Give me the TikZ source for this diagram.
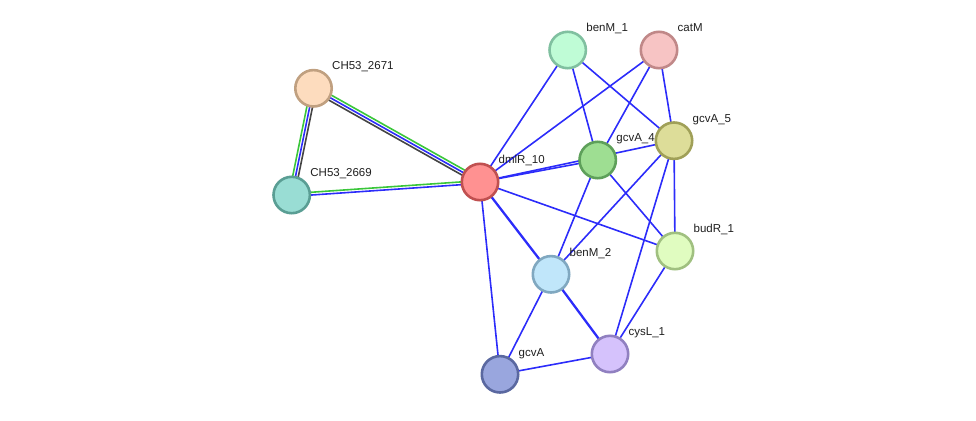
\documentclass[tikz,border=0pt]{standalone}
\usepackage{fontspec}
\setmainfont{Liberation Sans}
\usetikzlibrary{backgrounds}
\definecolor{eblue}{HTML}{2C2CFA}
\definecolor{egreen}{HTML}{3AC63A}
\definecolor{eblack}{HTML}{444444}
\definecolor{f1}{HTML}{FDDCBE}\definecolor{b1}{HTML}{C0A080}
\definecolor{f2}{HTML}{99DDD4}\definecolor{b2}{HTML}{5A9E94}
\definecolor{f3}{HTML}{FF9191}\definecolor{b3}{HTML}{C05050}
\definecolor{f4}{HTML}{BFFCD6}\definecolor{b4}{HTML}{80C0A0}
\definecolor{f5}{HTML}{F7C4C4}\definecolor{b5}{HTML}{C08888}
\definecolor{f6}{HTML}{9EDE92}\definecolor{b6}{HTML}{5EA05A}
\definecolor{f7}{HTML}{DDDD99}\definecolor{b7}{HTML}{A0A058}
\definecolor{f8}{HTML}{E0FCC0}\definecolor{b8}{HTML}{A0C080}
\definecolor{f9}{HTML}{C0E6FA}\definecolor{b9}{HTML}{80A8C0}
\definecolor{f10}{HTML}{D5C2FC}\definecolor{b10}{HTML}{9080C0}
\definecolor{f11}{HTML}{99A6DE}\definecolor{b11}{HTML}{5A68A0}
\begin{document}
\begin{tikzpicture}[x=1pt,y=-1pt,
  prot/.style={circle, draw, line width=2.6pt, minimum size=36.4pt, inner sep=0pt},
  lbl/.style={anchor=base west, inner sep=0pt, font=\fontsize{11.5}{13}\selectfont, text=black!88},
  eb/.style={draw=eblue, line width=1.6pt},
  ebt/.style={draw=eblue, line width=2.3pt},
  eg/.style={draw=egreen, line width=1.6pt},
  ek/.style={draw=eblack, line width=1.6pt}]
\useasboundingbox (0,0) rectangle (976,420);

\node[prot, fill=f1, draw=b1] (c71) at (313.5,88.3) {};
\node[prot, fill=f2, draw=b2] (c69) at (291.7,195) {};
\node[prot, fill=f3, draw=b3] (dml) at (480,182) {};
\node[prot, fill=f4, draw=b4] (bm1) at (567.7,50) {};
\node[prot, fill=f5, draw=b5] (cat) at (659,50) {};
\node[prot, fill=f6, draw=b6] (g4) at (597.7,160) {};
\node[prot, fill=f7, draw=b7] (g5) at (674,140.7) {};
\node[prot, fill=f8, draw=b8] (bud) at (675,251) {};
\node[prot, fill=f9, draw=b9] (bm2) at (551,274.3) {};
\node[prot, fill=f10, draw=b10] (cys) at (610,354) {};
\node[prot, fill=f11, draw=b11] (gcv) at (500,374.3) {};

\foreach \n/\t in {c71/CH53\_2671, c69/CH53\_2669, dml/dmlR\_10, bm1/benM\_1, cat/catM,
  g4/gcvA\_4, g5/gcvA\_5, bud/budR\_1, bm2/benM\_2, cys/cysL\_1, gcv/gcvA}
  \node[lbl] (l\n) at ([shift={(18.5,-18.3)}]\n.center) {\t};

\begin{scope}[on background layer]
  % triple and double edges
  \draw[eg, transform canvas={shift={(-2.75,-0.56)}}] (c71.center) -- (c69.center);
  \draw[eb] (c71.center) -- (c69.center);
  \draw[ek, transform canvas={shift={(2.75,0.56)}}] (c71.center) -- (c69.center);
  \draw[eg, transform canvas={shift={(1.37,-2.44)}}] (c71.center) -- (dml.center);
  \draw[eb] (c71.center) -- (dml.center);
  \draw[ek, transform canvas={shift={(-1.37,2.44)}}] (c71.center) -- (dml.center);
  \draw[eg, transform canvas={shift={(0.1,-1.4)}}] (c69.center) -- (dml.center);
  \draw[eb, transform canvas={shift={(-0.1,1.4)}}] (c69.center) -- (dml.center);
  % blue edges
  \draw[eb] (dml.center) -- (bm1.center);
  \draw[eb] (dml.center) -- (cat.center);
  \draw[eb] (dml.center) -- (g4.center);
  \draw[eb] (dml.center) -- (g5.center);
  \draw[ebt] (dml.center) -- (bm2.center);
  \draw[eb] (dml.center) -- (bud.center);
  \draw[eb] (dml.center) -- (gcv.center);
  \draw[eb] (bm1.center) -- (g4.center);
  \draw[eb] (bm1.center) -- (g5.center);
  \draw[eb] (cat.center) -- (g4.center);
  \draw[eb] (cat.center) -- (g5.center);
  \draw[eb] (g4.center) -- (bm2.center);
  \draw[eb] (g4.center) -- (bud.center);
  \draw[eb] (g5.center) -- (bm2.center);
  \draw[eb] (g5.center) -- (cys.center);
  \draw[eb] (g5.center) -- (bud.center);
  \draw[eb] (bud.center) -- (cys.center);
  \draw[ebt] (bm2.center) -- (cys.center);
  \draw[eb] (bm2.center) -- (gcv.center);
  \draw[eb] (gcv.center) -- (cys.center);
\end{scope}
\end{tikzpicture}
\end{document}
